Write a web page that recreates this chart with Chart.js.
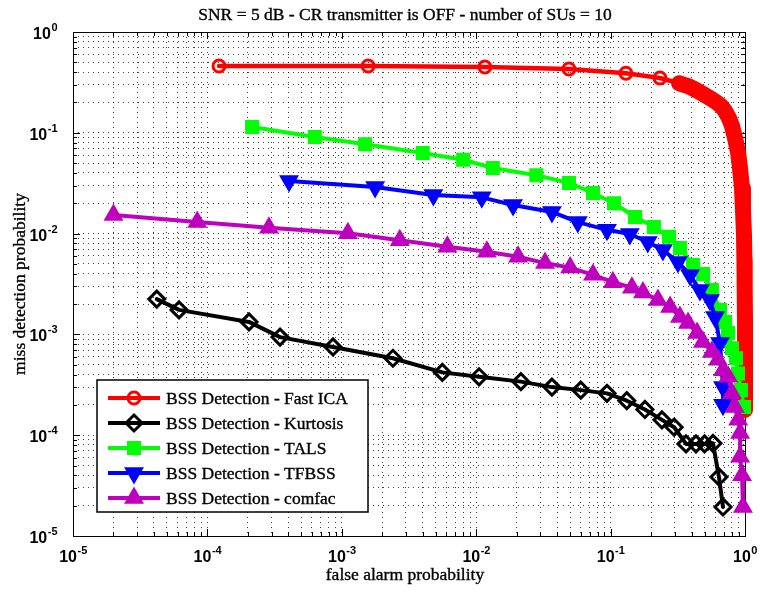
<!DOCTYPE html>
<html>
<head>
<meta charset="utf-8">
<script src="https://cdn.jsdelivr.net/npm/chart.js@4.4.1/dist/chart.umd.min.js"></script>
<style>
  html, body { margin: 0; padding: 0; background: #fff; }
  #wrap { width: 760px; height: 592px; }
</style>
</head>
<body>
<div id="wrap"><canvas id="rocChart" width="760" height="592"></canvas></div>
<script>
// Axis decades and their labels (10^exp)
const decades = [1e-5, 1e-4, 1e-3, 1e-2, 1e-1, 1e0];
const decadeExponents = ["-5", "-4", "-3", "-2", "-1", "0"];

const chartTitle = "SNR = 5 dB - CR transmitter is OFF - number of SUs = 10";
const xTitle = "false alarm probability";
const yTitle = "miss detection probability";

const seriesNames = [
    "BSS Detection - Fast ICA",
    "BSS Detection - Kurtosis",
    "BSS Detection - TALS",
    "BSS Detection - TFBSS",
    "BSS Detection - comfac"
];

// Fast ICA (red circles)
const fastIcaPfa = [1.22e-4, 1.57e-3, 0.0116, 0.049, 0.130, 0.233, 0.323, 0.377, 0.432, 0.487, 0.549, 0.609, 0.663, 0.710,
    0.760, 0.800, 0.843, 0.887, 0.918, 0.950, 0.966, 0.983, 0.99, 0.995, 1.0, 1.0, 1.0, 1.0];
const fastIcaPmd = [0.46, 0.46, 0.45, 0.43, 0.39, 0.35, 0.31, 0.291, 0.266, 0.243, 0.221, 0.202, 0.185, 0.165,
    0.140, 0.117, 0.0888, 0.0645, 0.0448, 0.0283, 0.0171, 0.00969, 0.00547, 0.00276, 0.00139, 7.0e-4, 3.53e-4, 1.78e-4];

// Kurtosis (black diamonds)
const kurtosisPfa = [4.2e-5, 6.15e-5, 2.04e-4, 3.47e-4, 8.6e-4, 2.4e-3, 5.6e-3, 0.0105, 0.0215, 0.0366, 0.060, 0.094,
    0.132, 0.18, 0.241, 0.297, 0.364, 0.432, 0.50, 0.578, 0.64, 0.686];
const kurtosisPmd = [2.24e-3, 1.75e-3, 1.33e-3, 9.4e-4, 7.5e-4, 5.8e-4, 4.2e-4, 3.8e-4, 3.4e-4, 3.0e-4, 2.8e-4, 2.6e-4,
    2.2e-4, 1.8e-4, 1.42e-4, 1.2e-4, 8.2e-5, 8.2e-5, 8.2e-5, 8.3e-5, 3.85e-5, 1.94e-5];

// TALS (green squares)
const talsPfa = [2.15e-4, 6.3e-4, 1.49e-3, 4.0e-3, 8.0e-3, 0.0133, 0.028, 0.049, 0.074, 0.106, 0.152, 0.210, 0.272,
    0.328, 0.410, 0.487, 0.567, 0.652, 0.710, 0.748, 0.800, 0.857, 0.887, 0.933, 0.983];
const talsPmd = [0.114, 0.091, 0.077, 0.063, 0.054, 0.0448, 0.038, 0.0318, 0.0253, 0.020, 0.0146, 0.0116, 0.0093,
    0.0072, 0.00488, 0.00397, 0.00276, 0.00175, 0.00133, 0.00103, 7.3e-4, 5.8e-4, 4.1e-4, 2.8e-4, 1.9e-4];

// TFBSS (blue down triangles)
const tfbssPfa = [4.05e-4, 1.77e-3, 4.8e-3, 0.011, 0.0188, 0.0366, 0.057, 0.094, 0.139, 0.189, 0.245, 0.317, 0.390,
    0.462, 0.549, 0.599, 0.652, 0.686, 0.686];
const tfbssPmd = [0.0333, 0.029, 0.0242, 0.0229, 0.0192, 0.0164, 0.013, 0.0109, 0.0099, 0.00826, 0.00688, 0.00523,
    0.00388, 0.00276, 0.00219, 0.00149, 8.2e-4, 3.0e-4, 2.0e-4];

// comfac (magenta up triangles)
const comfacPfa = [2.0e-5, 8.4e-5, 2.87e-4, 1.11e-3, 2.7e-3, 6.1e-3, 0.012, 0.0205, 0.0325, 0.050, 0.074, 0.104, 0.144,
    0.174, 0.225, 0.277, 0.328, 0.377, 0.44, 0.486, 0.567, 0.63, 0.686, 0.75, 0.80, 0.84, 0.89, 0.92, 0.92, 0.95, 0.966];
const comfacPmd = [0.0153, 0.013, 0.0114, 0.0101, 0.0086, 0.0074, 0.0066, 0.0059, 0.0051, 0.0046, 0.0039, 0.0033, 0.0029,
    0.0026, 0.0022, 0.00187, 0.00149, 0.0013, 0.00103, 8.4e-4, 6.7e-4, 5.6e-4, 4.4e-4, 3.8e-4, 2.6e-4, 1.9e-4, 1.42e-4,
    1.05e-4, 6.1e-5, 4.0e-5, 1.94e-5];

// grid positions: 1..9 inside each decade
const gridValues = [];
decades.forEach((d, i) => {
    if (i === decades.length - 1) { gridValues.push(d); return; }
    for (let k = 1; k <= 9; k++) gridValues.push(+(d * k).toPrecision(3));
});

const serif = '"Liberation Serif", "Times New Roman", serif';
const sans = '"Liberation Sans", Arial, sans-serif';

function toPoints(xs, ys) {
    return xs.map((v, i) => ({ x: v, y: ys[i] }));
}

// marker styles, same order as seriesNames
const styles = [
    { color: "#ff0000", pointStyle: "circle", radius: 6, rotation: 0, fill: "rgba(0,0,0,0)", bw: 3 },
    { color: "#000000", pointStyle: "rectRot", radius: 8, rotation: 0, fill: "rgba(0,0,0,0)", bw: 3 },
    { color: "#00ff00", pointStyle: "rect", radius: 8.5, rotation: 0, fill: "#00ff00", bw: 2 },
    { color: "#0000ff", pointStyle: "triangle", radius: 9.5, rotation: 180, fill: "#0000ff", bw: 2 },
    { color: "#bf00bf", pointStyle: "triangle", radius: 9.5, rotation: 0, fill: "#bf00bf", bw: 2 }
];
const seriesData = [
    toPoints(fastIcaPfa, fastIcaPmd),
    toPoints(kurtosisPfa, kurtosisPmd),
    toPoints(talsPfa, talsPmd),
    toPoints(tfbssPfa, tfbssPmd),
    toPoints(comfacPfa, comfacPmd)
];

const datasets = seriesData.map((pts, i) => {
    const s = styles[i];
    const ds = {
        label: seriesNames[i],
        data: pts,
        borderColor: s.color,
        backgroundColor: s.fill,
        borderWidth: 4,
        borderCapStyle: "round",
        borderJoinStyle: "round",
        pointStyle: s.pointStyle,
        pointRotation: s.rotation,
        pointRadius: s.radius,
        pointBorderWidth: s.bw,
        pointBorderColor: s.color,
        pointBackgroundColor: s.fill,
        tension: 0,
        fill: false,
        clip: false,
        order: 5 - i // later series drawn on top, like MATLAB
    };
    if (i === 0) {
        // the dense Fast ICA tail shows up as one thick band
        ds.segment = { borderWidth: ctx => (ctx.p0DataIndex >= 6 ? 16 : 4.5) };
    }
    return ds;
});

function drawPower(ctx, exp, x, y, align) {
    // draws "10" with a superscript exponent; y is baseline of "10"
    const mainFont = "bold 16px " + sans;
    const supFont = "bold 11px " + sans;
    ctx.font = mainFont;
    const w1 = ctx.measureText("10").width;
    ctx.font = supFont;
    const w2 = ctx.measureText(exp).width;
    let x0 = x;
    if (align === "center") x0 = x - (w1 + w2) / 2;
    if (align === "right") x0 = x - (w1 + w2);
    ctx.textAlign = "left";
    ctx.textBaseline = "alphabetic";
    ctx.font = mainFont;
    ctx.fillText("10", x0, y);
    ctx.font = supFont;
    ctx.fillText(exp, x0 + w1 + 0.5, y - 8);
}

function serifText(ctx, text, x, y) {
    // MATLAB's Times renders a little heavy, so add a thin outline
    ctx.fillText(text, x, y);
    ctx.strokeText(text, x, y);
}

const axesBox = {
    id: "axesBox",
    beforeDatasetsDraw(chart) {
        const { ctx, chartArea: a, scales } = chart;
        const xs = scales.x, ys = scales.y;
        ctx.save();
        ctx.strokeStyle = "#000";
        ctx.lineWidth = 1;
        ctx.beginPath();
        gridValues.forEach(v => {
            const len = decades.includes(v) ? 7 : 4;
            const px = Math.round(xs.getPixelForValue(v)) + 0.5;
            ctx.moveTo(px, a.bottom); ctx.lineTo(px, a.bottom - len);
            ctx.moveTo(px, a.top); ctx.lineTo(px, a.top + len);
            const py = Math.round(ys.getPixelForValue(v)) + 0.5;
            ctx.moveTo(a.left, py); ctx.lineTo(a.left + len, py);
            ctx.moveTo(a.right, py); ctx.lineTo(a.right - len, py);
        });
        ctx.stroke();
        ctx.strokeRect(a.left + 0.5, a.top + 0.5, a.right - a.left, a.bottom - a.top);
        ctx.restore();
    },
    afterDraw(chart) {
        const { ctx, chartArea: a, scales } = chart;
        const xs = scales.x, ys = scales.y;
        ctx.save();
        ctx.fillStyle = "#000";

        // tick labels
        decades.forEach((v, i) => {
            drawPower(ctx, decadeExponents[i], xs.getPixelForValue(v), a.bottom + 26, "center");
            drawPower(ctx, decadeExponents[i], a.left - 16, ys.getPixelForValue(v) + 7, "right");
        });

        // title and axis labels
        ctx.font = "17.5px " + serif;
        ctx.strokeStyle = "#000";
        ctx.lineWidth = 0.35;
        ctx.textAlign = "center";
        ctx.textBaseline = "alphabetic";
        serifText(ctx, chartTitle, 405, 20);
        serifText(ctx, xTitle, 405, 580);
        ctx.save();
        ctx.translate(25, (a.top + a.bottom) / 2);
        ctx.rotate(-Math.PI / 2);
        serifText(ctx, yTitle, 0, 0);
        ctx.restore();

        // legend box
        const lx = 97, ly = 380, lw = 271, lh = 132;
        ctx.fillStyle = "#fff";
        ctx.fillRect(lx, ly, lw, lh);
        ctx.strokeStyle = "#000";
        ctx.lineWidth = 1.5;
        ctx.strokeRect(lx, ly, lw, lh);
        const drawPoint = Chart.helpers && Chart.helpers.drawPoint;
        seriesNames.forEach((name, i) => {
            const s = styles[i];
            const ry = 398 + i * 25;
            ctx.strokeStyle = s.color;
            ctx.lineWidth = 4;
            ctx.beginPath();
            ctx.moveTo(108, ry);
            ctx.lineTo(160, ry);
            ctx.stroke();
            ctx.fillStyle = s.fill;
            ctx.lineWidth = s.bw;
            if (drawPoint) {
                drawPoint(ctx, { pointStyle: s.pointStyle, rotation: s.rotation, radius: s.radius, borderWidth: s.bw }, 134, ry);
            }
            ctx.fillStyle = "#000";
            ctx.strokeStyle = "#000";
            ctx.lineWidth = 0.35;
            ctx.font = "17.5px " + serif;
            ctx.textAlign = "left";
            serifText(ctx, name, 166, ry + 6);
        });
        ctx.restore();
    }
};

function logAxis() {
    return {
        type: "logarithmic",
        min: 1e-5,
        max: 1,
        afterBuildTicks: scale => {
            scale.ticks = gridValues.map(v => ({ value: v }));
        },
        ticks: { display: false },
        grid: { color: "rgba(0,0,0,0.75)", lineWidth: 1, drawTicks: false },
        border: { display: false, dash: [1, 4] }
    };
}

new Chart(document.getElementById("rocChart"), {
    type: "line",
    data: { datasets: datasets },
    options: {
        responsive: false,
        devicePixelRatio: 1,
        animation: false,
        events: [],
        layout: { padding: { left: 73, right: 15, top: 32, bottom: 56 } },
        scales: {
            x: logAxis(),
            y: logAxis()
        },
        plugins: {
            legend: { display: false },
            tooltip: { enabled: false },
            title: { display: false }
        }
    },
    plugins: [axesBox]
});
</script>
</body>
</html>
